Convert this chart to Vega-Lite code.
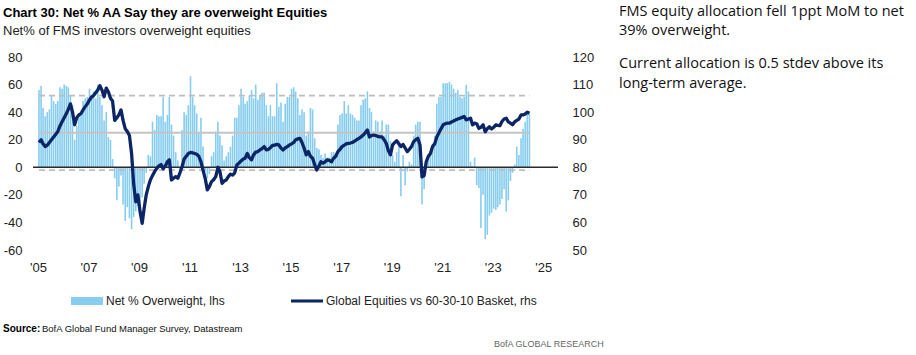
{
  "$schema": "https://vega.github.io/schema/vega-lite/v6.json",
  "background": "white",
  "padding": {"left": 3, "top": 4, "right": 0, "bottom": 0},
  "config": {
    "font": "Liberation Sans",
    "view": {"stroke": null},
    "axis": {"labelFont": "Liberation Sans", "labelFontSize": 13, "labelColor": "#222", "ticks": false, "domain": false, "grid": false, "labelOverlap": false}
  },
  "spacing": 50,
  "vconcat": [
    {
      "spacing": 25,
      "hconcat": [
        {
          "width": 525,
          "height": 193,
          "title": {
            "text": "Chart 30: Net % AA Say they are overweight Equities",
            "subtitle": "Net% of FMS investors overweight equities",
            "anchor": "start",
            "frame": "group",
            "dx": -30,
            "font": "Liberation Sans",
            "fontSize": 13,
            "fontWeight": "bold",
            "color": "#000",
            "subtitleFont": "Liberation Sans",
            "subtitleFontSize": 13,
            "subtitleColor": "#222",
            "subtitlePadding": 5,
            "offset": 13
          },
          "data": {"values": [
            {"d":"2005-01-15","b":56,"l":89},{"d":"2005-02-15","b":59,"l":90},{"d":"2005-03-15","b":43,"l":88.5},{"d":"2005-04-15","b":37,"l":87.5},{"d":"2005-05-15","b":40,"l":88},{"d":"2005-06-15","b":42,"l":89},{"d":"2005-07-15","b":52,"l":90},{"d":"2005-08-15","b":48,"l":91},{"d":"2005-09-15","b":46,"l":92},{"d":"2005-10-15","b":48,"l":93},{"d":"2005-11-15","b":58,"l":95},{"d":"2005-12-15","b":57,"l":96.5},
            {"d":"2006-01-15","b":60,"l":98},{"d":"2006-02-15","b":59,"l":99.5},{"d":"2006-03-15","b":58,"l":101},{"d":"2006-04-15","b":52,"l":103},{"d":"2006-05-15","b":45,"l":100},{"d":"2006-06-15","b":20,"l":95.4},{"d":"2006-07-15","b":30,"l":98},{"d":"2006-08-15","b":36,"l":99},{"d":"2006-09-15","b":39,"l":99.5},{"d":"2006-10-15","b":48,"l":100.8},{"d":"2006-11-15","b":50,"l":102},{"d":"2006-12-15","b":51,"l":103},
            {"d":"2007-01-15","b":57,"l":104.4},{"d":"2007-02-15","b":51,"l":105.5},{"d":"2007-03-15","b":55,"l":106},{"d":"2007-04-15","b":50,"l":107},{"d":"2007-05-15","b":60,"l":108},{"d":"2007-06-15","b":51,"l":109.6},{"d":"2007-07-15","b":45,"l":108},{"d":"2007-08-15","b":34,"l":105.6},{"d":"2007-09-15","b":40,"l":108.7},{"d":"2007-10-15","b":22,"l":107.4},{"d":"2007-11-15","b":20,"l":105},{"d":"2007-12-15","b":6,"l":104},
            {"d":"2008-01-15","b":-8,"l":97},{"d":"2008-02-15","b":-24,"l":98},{"d":"2008-03-15","b":-14,"l":99},{"d":"2008-04-15","b":-6,"l":100.8},{"d":"2008-05-15","b":-27,"l":97},{"d":"2008-06-15","b":-39,"l":94},{"d":"2008-07-15","b":-29,"l":93},{"d":"2008-08-15","b":-37,"l":91.5},{"d":"2008-09-15","b":-45,"l":85},{"d":"2008-10-15","b":-36,"l":74},{"d":"2008-11-15","b":-32,"l":67.5},{"d":"2008-12-15","b":-28,"l":70},
            {"d":"2009-01-15","b":-33,"l":64},{"d":"2009-02-15","b":-22,"l":59.7},{"d":"2009-03-15","b":-12,"l":65},{"d":"2009-04-15","b":-4,"l":70},{"d":"2009-05-15","b":9,"l":73},{"d":"2009-06-15","b":8,"l":75.5},{"d":"2009-07-15","b":33,"l":77},{"d":"2009-08-15","b":27,"l":78.5},{"d":"2009-09-15","b":38,"l":79.6},{"d":"2009-10-15","b":37,"l":80.5},{"d":"2009-11-15","b":37,"l":81},{"d":"2009-12-15","b":51,"l":79.5},
            {"d":"2010-01-15","b":33,"l":80.5},{"d":"2010-02-15","b":38,"l":82},{"d":"2010-03-15","b":51,"l":82.7},{"d":"2010-04-15","b":31,"l":75.4},{"d":"2010-05-15","b":23,"l":76},{"d":"2010-06-15","b":11,"l":76.6},{"d":"2010-07-15","b":5,"l":76},{"d":"2010-08-15","b":-3,"l":78},{"d":"2010-09-15","b":27,"l":80.2},{"d":"2010-10-15","b":40,"l":83},{"d":"2010-11-15","b":38,"l":84},{"d":"2010-12-15","b":45,"l":85},
            {"d":"2011-01-15","b":66,"l":85.4},{"d":"2011-02-15","b":51,"l":85.2},{"d":"2011-03-15","b":45,"l":85},{"d":"2011-04-15","b":39,"l":84.7},{"d":"2011-05-15","b":25,"l":84},{"d":"2011-06-15","b":36,"l":82},{"d":"2011-07-15","b":15,"l":79},{"d":"2011-08-15","b":-3,"l":76},{"d":"2011-09-15","b":-8,"l":71.8},{"d":"2011-10-15","b":-5,"l":73},{"d":"2011-11-15","b":8,"l":74.8},{"d":"2011-12-15","b":11,"l":75.5},
            {"d":"2012-01-15","b":26,"l":76.6},{"d":"2012-02-15","b":33,"l":80},{"d":"2012-03-15","b":23,"l":78.5},{"d":"2012-04-15","b":16,"l":74.2},{"d":"2012-05-15","b":5,"l":75},{"d":"2012-06-15","b":8,"l":75.4},{"d":"2012-07-15","b":11,"l":76.6},{"d":"2012-08-15","b":15,"l":77.5},{"d":"2012-09-15","b":23,"l":77.2},{"d":"2012-10-15","b":36,"l":78},{"d":"2012-11-15","b":36,"l":80.8},{"d":"2012-12-15","b":45,"l":81.5},
            {"d":"2013-01-15","b":57,"l":82.3},{"d":"2013-02-15","b":51,"l":83},{"d":"2013-03-15","b":46,"l":83.3},{"d":"2013-04-15","b":48,"l":85},{"d":"2013-05-15","b":52,"l":83.5},{"d":"2013-06-15","b":56,"l":82.7},{"d":"2013-07-15","b":50,"l":84.5},{"d":"2013-08-15","b":60,"l":85.5},{"d":"2013-09-15","b":49,"l":85.7},{"d":"2013-10-15","b":52,"l":86.3},{"d":"2013-11-15","b":54,"l":86.8},{"d":"2013-12-15","b":54,"l":87.5},
            {"d":"2014-01-15","b":45,"l":86.3},{"d":"2014-02-15","b":37,"l":86.5},{"d":"2014-03-15","b":45,"l":87.1},{"d":"2014-04-15","b":37,"l":87.9},{"d":"2014-05-15","b":37,"l":88},{"d":"2014-06-15","b":61,"l":88.3},{"d":"2014-07-15","b":44,"l":88.1},{"d":"2014-08-15","b":47,"l":87},{"d":"2014-09-15","b":33,"l":86.3},{"d":"2014-10-15","b":46,"l":87},{"d":"2014-11-15","b":51,"l":87.5},{"d":"2014-12-15","b":51,"l":88.1},
            {"d":"2015-01-15","b":57,"l":88.5},{"d":"2015-02-15","b":58,"l":89},{"d":"2015-03-15","b":55,"l":90},{"d":"2015-04-15","b":50,"l":90.3},{"d":"2015-05-15","b":38,"l":90.5},{"d":"2015-06-15","b":42,"l":89},{"d":"2015-07-15","b":40,"l":87},{"d":"2015-08-15","b":23,"l":84.5},{"d":"2015-09-15","b":26,"l":85.7},{"d":"2015-10-15","b":43,"l":84},{"d":"2015-11-15","b":42,"l":83.3},{"d":"2015-12-15","b":21,"l":81},
            {"d":"2016-01-15","b":14,"l":79},{"d":"2016-02-15","b":13,"l":80.5},{"d":"2016-03-15","b":9,"l":82},{"d":"2016-04-15","b":7,"l":81.5},{"d":"2016-05-15","b":10,"l":82},{"d":"2016-06-15","b":7,"l":82.7},{"d":"2016-07-15","b":7,"l":82.5},{"d":"2016-08-15","b":11,"l":82},{"d":"2016-09-15","b":11,"l":83.3},{"d":"2016-10-15","b":9,"l":84},{"d":"2016-11-15","b":31,"l":85.7},{"d":"2016-12-15","b":38,"l":86.5},
            {"d":"2017-01-15","b":39,"l":87.5},{"d":"2017-02-15","b":48,"l":88},{"d":"2017-03-15","b":39,"l":88.5},{"d":"2017-04-15","b":45,"l":88.7},{"d":"2017-05-15","b":39,"l":88.8},{"d":"2017-06-15","b":38,"l":89},{"d":"2017-07-15","b":36,"l":89.5},{"d":"2017-08-15","b":34,"l":90},{"d":"2017-09-15","b":34,"l":90.5},{"d":"2017-10-15","b":45,"l":91},{"d":"2017-11-15","b":49,"l":91.7},{"d":"2017-12-15","b":50,"l":92.5},
            {"d":"2018-01-15","b":55,"l":93.5},{"d":"2018-02-15","b":43,"l":91},{"d":"2018-03-15","b":40,"l":91.5},{"d":"2018-04-15","b":26,"l":91.7},{"d":"2018-05-15","b":34,"l":91.5},{"d":"2018-06-15","b":33,"l":91.2},{"d":"2018-07-15","b":26,"l":91},{"d":"2018-08-15","b":34,"l":91},{"d":"2018-09-15","b":23,"l":90},{"d":"2018-10-15","b":31,"l":88.7},{"d":"2018-11-15","b":31,"l":86},{"d":"2018-12-15","b":19,"l":84.5},
            {"d":"2019-01-15","b":9,"l":88.1},{"d":"2019-02-15","b":4,"l":89},{"d":"2019-03-15","b":11,"l":89.6},{"d":"2019-04-15","b":19,"l":88.5},{"d":"2019-05-15","b":-21,"l":87.5},{"d":"2019-06-15","b":9,"l":88.3},{"d":"2019-07-15","b":-13,"l":87},{"d":"2019-08-15","b":-3,"l":85.7},{"d":"2019-09-15","b":4,"l":86.5},{"d":"2019-10-15","b":2,"l":87.5},{"d":"2019-11-15","b":23,"l":89.3},{"d":"2019-12-15","b":31,"l":90},
            {"d":"2020-01-15","b":33,"l":90.5},{"d":"2020-02-15","b":33,"l":88.1},{"d":"2020-03-15","b":-27,"l":76.5},{"d":"2020-04-15","b":-16,"l":77},{"d":"2020-05-15","b":2,"l":82},{"d":"2020-06-15","b":7,"l":84},{"d":"2020-07-15","b":9,"l":85},{"d":"2020-08-15","b":17,"l":87.5},{"d":"2020-09-15","b":23,"l":88.5},{"d":"2020-10-15","b":46,"l":91},{"d":"2020-11-15","b":51,"l":92.5},{"d":"2020-12-15","b":51,"l":94},
            {"d":"2021-01-15","b":61,"l":95.4},{"d":"2021-02-15","b":61,"l":95.8},{"d":"2021-03-15","b":61,"l":96},{"d":"2021-04-15","b":62,"l":96},{"d":"2021-05-15","b":60,"l":96.4},{"d":"2021-06-15","b":57,"l":96.8},{"d":"2021-07-15","b":54,"l":97.2},{"d":"2021-08-15","b":56,"l":97.5},{"d":"2021-09-15","b":51,"l":97.8},{"d":"2021-10-15","b":50,"l":98.1},{"d":"2021-11-15","b":51,"l":98.4},{"d":"2021-12-15","b":60,"l":97.2},
            {"d":"2022-01-15","b":55,"l":97.5},{"d":"2022-02-15","b":4,"l":97.8},{"d":"2022-03-15","b":1,"l":95.4},{"d":"2022-04-15","b":7,"l":96},{"d":"2022-05-15","b":-13,"l":95.8},{"d":"2022-06-15","b":-15,"l":94.1},{"d":"2022-07-15","b":-44,"l":94.5},{"d":"2022-08-15","b":-20,"l":95.4},{"d":"2022-09-15","b":-52,"l":92.9},{"d":"2022-10-15","b":-49,"l":94},{"d":"2022-11-15","b":-35,"l":94.7},{"d":"2022-12-15","b":-33,"l":93.9},
            {"d":"2023-01-15","b":-30,"l":94.5},{"d":"2023-02-15","b":-31,"l":95.4},{"d":"2023-03-15","b":-29,"l":95.2},{"d":"2023-04-15","b":-27,"l":95.1},{"d":"2023-05-15","b":-23,"l":96.6},{"d":"2023-06-15","b":-16,"l":97.5},{"d":"2023-07-15","b":-32,"l":97.8},{"d":"2023-08-15","b":-24,"l":96.5},{"d":"2023-09-15","b":-10,"l":96},{"d":"2023-10-15","b":-4,"l":95.4},{"d":"2023-11-15","b":2,"l":96.5},{"d":"2023-12-15","b":15,"l":97},
            {"d":"2024-01-15","b":9,"l":97.5},{"d":"2024-02-15","b":21,"l":99},{"d":"2024-03-15","b":28,"l":99},{"d":"2024-04-15","b":33,"l":99.3},{"d":"2024-05-15","b":40,"l":100},{"d":"2024-06-15","b":39,"l":99.6}
          ]},
          "layer": [
            {
              "layer": [
                {
                  "mark": {"type": "bar", "width": 1.6},
                  "encoding": {
                    "x": {
                      "field": "d", "type": "temporal",
                      "scale": {"domain": [{"year": 2005, "month": 1, "date": 1}, {"year": 2025, "month": 5, "date": 22}]},
                      "axis": {
                        "title": null, "format": "'%y", "labelPadding": 11, "labelFontSize": 13, "labelOverlap": false,
                        "values": [{"year": 2005, "month": 1, "date": 1}, {"year": 2007, "month": 1, "date": 1}, {"year": 2009, "month": 1, "date": 1}, {"year": 2011, "month": 1, "date": 1}, {"year": 2013, "month": 1, "date": 1}, {"year": 2015, "month": 1, "date": 1}, {"year": 2017, "month": 1, "date": 1}, {"year": 2019, "month": 1, "date": 1}, {"year": 2021, "month": 1, "date": 1}, {"year": 2023, "month": 1, "date": 1}, {"year": 2025, "month": 1, "date": 1}]
                      }
                    },
                    "y": {
                      "field": "b", "type": "quantitative",
                      "scale": {"domain": [-60, 80], "nice": false},
                      "axis": {"title": null, "values": [-60, -40, -20, 0, 20, 40, 60, 80], "labelPadding": 11, "labelOverlap": false, "labelExpr": "'' + datum.value"}
                    },
                    "color": {
                      "datum": "Net % Overweight, lhs",
                      "scale": {"domain": ["Net % Overweight, lhs", "Global Equities vs 60-30-10 Basket, rhs"], "range": ["#86cdef", "#0b2567"]},
                      "legend": {
                        "orient": "none", "legendX": 46, "legendY": 236, "direction": "horizontal", "columns": 2, "title": null,
                        "symbolType": "M-2,-0.5H2V0.5H-2Z", "symbolSize": 256, "symbolStrokeWidth": 0, "symbolOpacity": 1,
                        "labelFont": "Liberation Sans", "labelFontSize": 12, "labelColor": "#222", "labelOffset": 11, "columnPadding": 66, "labelLimit": 400,
                        "encode": {"symbols": {"update": {
                          "shape": {"signal": "datum.label === 'Net % Overweight, lhs' ? 'M-2,-0.5H2V0.5H-2Z' : 'M-2,-0.19H2V0.19H-2Z'"},
                          "fill": {"signal": "scale('color', datum.value)"},
                          "strokeWidth": {"value": 0},
                          "opacity": {"value": 1}
                        }}}
                      }
                    }
                  }
                },
                {
                  "data": {"values": [{"s": "2005-01-15", "e": "2024-06-15", "v": 52}, {"s": "2005-01-15", "e": "2024-06-15", "v": -2}]},
                  "mark": {"type": "rule", "color": "#bdbdbd", "strokeWidth": 1.8, "strokeDash": [6, 4]},
                  "encoding": {"x": {"field": "s", "type": "temporal"}, "x2": {"field": "e"}, "y": {"field": "v", "type": "quantitative", "axis": {"title": null, "values": [-60, -40, -20, 0, 20, 40, 60, 80], "labelPadding": 11, "labelOverlap": false, "labelExpr": "'' + datum.value"}}}
                },
                {
                  "data": {"values": [{"s": "2005-01-15", "e": "2024-06-15", "v": 25}]},
                  "mark": {"type": "rule", "color": "#c4c4c4", "strokeWidth": 2},
                  "encoding": {"x": {"field": "s", "type": "temporal"}, "x2": {"field": "e"}, "y": {"field": "v", "type": "quantitative", "axis": {"title": null, "values": [-60, -40, -20, 0, 20, 40, 60, 80], "labelPadding": 11, "labelOverlap": false, "labelExpr": "'' + datum.value"}}}
                },
                {
                  "data": {"values": [{"v": 0}]},
                  "mark": {"type": "rule", "color": "#2a2a2a", "strokeWidth": 1.5},
                  "encoding": {"y": {"field": "v", "type": "quantitative", "axis": {"title": null, "values": [-60, -40, -20, 0, 20, 40, 60, 80], "labelPadding": 11, "labelOverlap": false, "labelExpr": "'' + datum.value"}}}
                }
              ]
            },
            {
              "mark": {"type": "line", "strokeWidth": 3.3, "strokeJoin": "round"},
              "encoding": {
                "x": {"field": "d", "type": "temporal"},
                "y": {
                  "field": "l", "type": "quantitative",
                  "scale": {"domain": [50, 120], "nice": false, "zero": false},
                  "axis": {"title": null, "orient": "right", "values": [50, 60, 70, 80, 90, 100, 110, 120], "labelPadding": 14, "labelOverlap": false}
                },
                "color": {"datum": "Global Equities vs 60-30-10 Basket, rhs"}
              }
            }
          ],
          "resolve": {"scale": {"y": "independent"}}
        },
        {
          "width": 290,
          "height": 193,
          "data": {"values": [
            {"t": "FMS equity allocation fell 1ppt MoM to net", "r": 0},
            {"t": "39% overweight.", "r": 1},
            {"t": "Current allocation is 0.5 stdev above its", "r": 2.75},
            {"t": "long-term average.", "r": 3.78}
          ]},
          "mark": {"type": "text", "align": "left", "baseline": "middle", "font": "Open Sans", "fontSize": 14.5, "color": "#111"},
          "encoding": {
            "x": {"datum": 0, "type": "quantitative", "scale": {"domain": [0, 1]}, "axis": null},
            "y": {"field": "r", "type": "quantitative", "scale": {"domain": [0, 10], "range": [-45, 145]}, "axis": null},
            "text": {"field": "t"}
          }
        }
      ]
    },
    {
      "width": 300,
      "height": 20,
      "layer": [
        {
          "data": {"values": [{"x": -30, "y": 0, "t": "Source:"}]},
          "mark": {"type": "text", "align": "left", "baseline": "middle", "fontWeight": "bold", "fontSize": 10, "color": "#000"},
          "encoding": {
            "x": {"field": "x", "type": "quantitative", "scale": {"domain": [0, 300], "zero": false}, "axis": null},
            "y": {"field": "y", "type": "quantitative", "scale": {"domain": [0, 20], "range": [0, 20]}, "axis": null},
            "text": {"field": "t"}
          }
        },
        {
          "data": {"values": [{"x": 9, "y": 0, "t": "BofA Global Fund Manager Survey, Datastream"}]},
          "mark": {"type": "text", "align": "left", "baseline": "middle", "fontSize": 9.5, "color": "#111"},
          "encoding": {
            "x": {"field": "x", "type": "quantitative"},
            "y": {"field": "y", "type": "quantitative"},
            "text": {"field": "t"}
          }
        },
        {
          "data": {"values": [{"x": 461, "y": 15, "t": "BofA GLOBAL RESEARCH"}]},
          "mark": {"type": "text", "align": "left", "baseline": "middle", "fontSize": 9, "color": "#666"},
          "encoding": {
            "x": {"field": "x", "type": "quantitative"},
            "y": {"field": "y", "type": "quantitative"},
            "text": {"field": "t"}
          }
        }
      ]
    }
  ]
}
